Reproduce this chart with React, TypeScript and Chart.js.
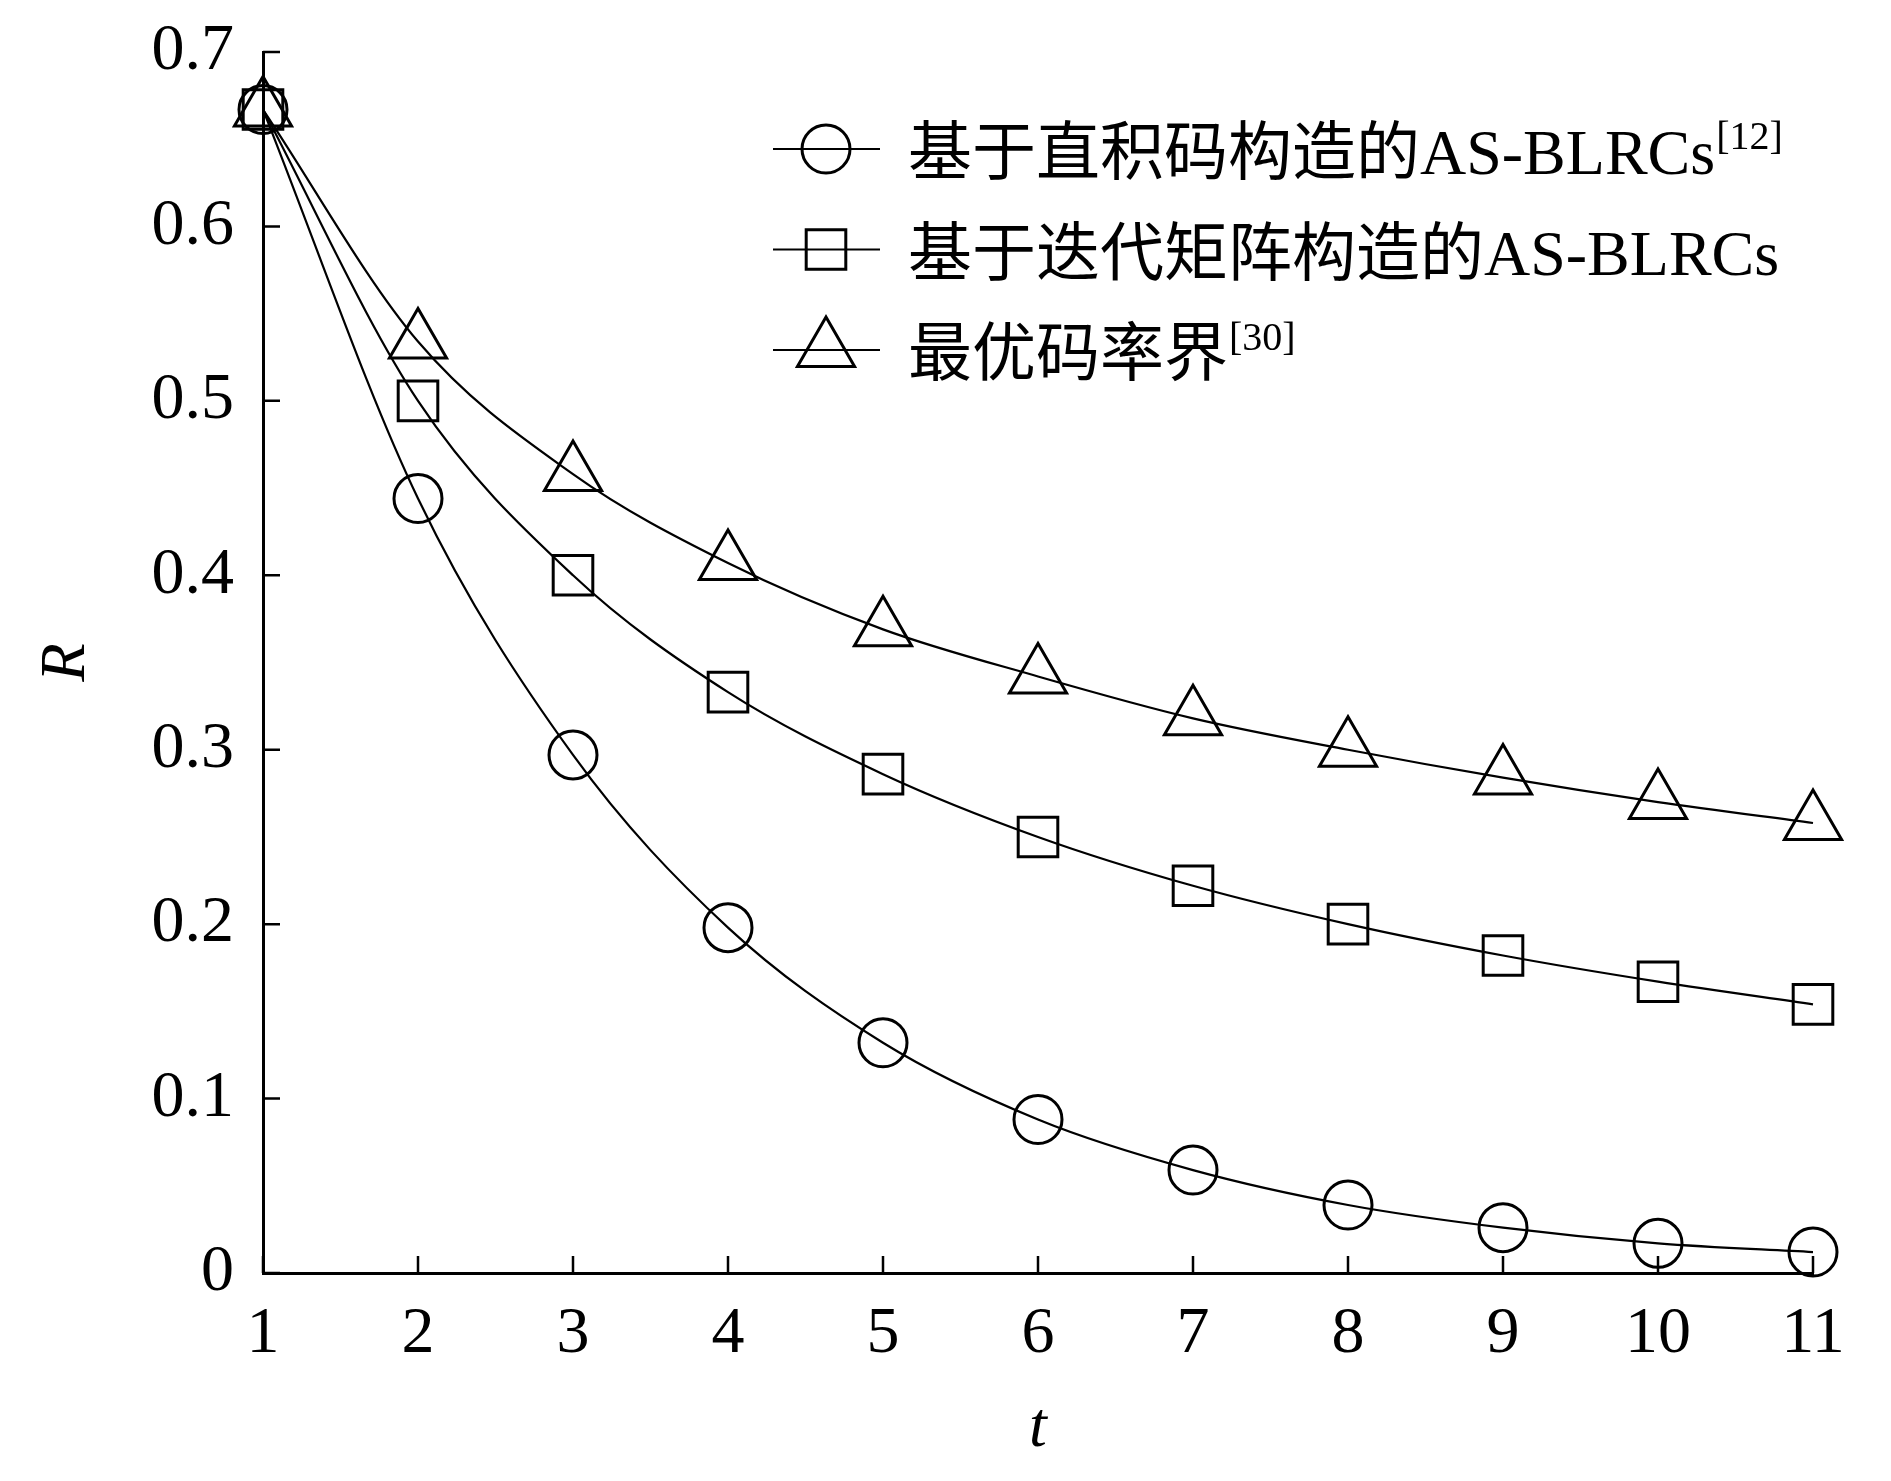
import React, { useEffect, useRef } from 'react';
import { Chart, registerables } from 'chart.js';

Chart.register(...registerables);

// ---- data ----
const tLabels = ['1', '2', '3', '4', '5', '6', '7', '8', '9', '10', '11'];
const directProduct = [0.667, 0.444, 0.297, 0.198, 0.132, 0.088, 0.059, 0.039, 0.026, 0.017, 0.012];
const iterativeMatrix = [0.667, 0.5, 0.4, 0.333, 0.286, 0.25, 0.222, 0.2, 0.182, 0.167, 0.154];
const optimalBound = [0.667, 0.534, 0.458, 0.407, 0.369, 0.342, 0.318, 0.3, 0.284, 0.27, 0.258];
const yTickLabels = ['0', '0.1', '0.2', '0.3', '0.4', '0.5', '0.6', '0.7'];
const seriesNames = ['基于直积码构造的AS-BLRCs', '基于迭代矩阵构造的AS-BLRCs', '最优码率界'];
const seriesRefs = ['[12]', '', '[30]'];
const xTitle = 't';
const yTitle = 'R';

// ---- layout ----
const W = 1891;
const H = 1481;
const AREA = { left: 263, right: 1813, top: 52, bottom: 1273 };
const LEGEND = { lineX0: 773, lineX1: 880, markerX: 826, textX: 908, firstY: 149, rowGap: 100.5 };
const SERIF = '"Liberation Serif", "Times New Roman", serif';
const MIXED = '"Liberation Serif", "Noto Sans CJK SC", serif';

function drawMarker(ctx: CanvasRenderingContext2D, style: string, x: number, y: number, r: number, lw: number) {
  ctx.save();
  ctx.lineWidth = lw;
  ctx.strokeStyle = '#000';
  ctx.beginPath();
  if (style === 'circle') {
    ctx.arc(x, y, r, 0, Math.PI * 2);
  } else if (style === 'rect') {
    const s = Math.SQRT1_2 * r;
    ctx.rect(x - s, y - s, 2 * s, 2 * s);
  } else {
    let rad = 0;
    ctx.moveTo(x + Math.sin(rad) * r, y - Math.cos(rad) * r);
    rad += (2 * Math.PI) / 3;
    ctx.lineTo(x + Math.sin(rad) * r, y - Math.cos(rad) * r);
    rad += (2 * Math.PI) / 3;
    ctx.lineTo(x + Math.sin(rad) * r, y - Math.cos(rad) * r);
    ctx.closePath();
  }
  ctx.stroke();
  ctx.restore();
}

const innerTicksPlugin = {
  id: 'innerTicks',
  afterDatasetsDraw(chart: any) {
    const { ctx, scales, chartArea } = chart;
    const len = 17;
    ctx.save();
    ctx.strokeStyle = '#000';
    ctx.lineWidth = 2.5;
    ctx.beginPath();
    const y = scales.y;
    y.ticks.forEach((tk: any) => {
      const py = y.getPixelForValue(tk.value);
      ctx.moveTo(chartArea.left, py);
      ctx.lineTo(chartArea.left + len, py);
    });
    const x = scales.x;
    x.ticks.forEach((_tk: any, i: number) => {
      const px = x.getPixelForTick(i);
      ctx.moveTo(px, chartArea.bottom);
      ctx.lineTo(px, chartArea.bottom - len);
    });
    ctx.stroke();
    ctx.restore();
  },
};

const paperLegendPlugin = {
  id: 'paperLegend',
  afterDraw(chart: any) {
    const ctx: CanvasRenderingContext2D = chart.ctx;
    ctx.save();
    chart.data.datasets.forEach((ds: any, i: number) => {
      const y = LEGEND.firstY + i * LEGEND.rowGap;
      ctx.strokeStyle = '#000';
      ctx.lineWidth = 2;
      ctx.beginPath();
      ctx.moveTo(LEGEND.lineX0, y);
      ctx.lineTo(LEGEND.lineX1, y);
      ctx.stroke();
      drawMarker(ctx, ds.pointStyle, LEGEND.markerX, y, ds.pointRadius, 3);
      ctx.fillStyle = '#000';
      ctx.textAlign = 'left';
      ctx.textBaseline = 'alphabetic';
      ctx.font = `64px ${MIXED}`;
      ctx.fillText(ds.label, LEGEND.textX, y + 25);
      const w = ctx.measureText(ds.label).width;
      const ref = seriesRefs[i];
      if (ref) {
        ctx.font = `40px ${SERIF}`;
        ctx.fillText(ref, LEGEND.textX + w + 1, y);
      }
    });
    ctx.restore();
  },
};

export default function App() {
  const ref = useRef<HTMLCanvasElement | null>(null);

  useEffect(() => {
    if (!ref.current) return;
    const common = {
      borderColor: '#000',
      borderWidth: 2.2,
      pointBorderColor: '#000',
      pointBackgroundColor: 'rgba(0,0,0,0)',
      pointBorderWidth: 3,
      cubicInterpolationMode: 'monotone' as const,
      clip: false as any,
      fill: false,
    };
    const chart = new Chart(ref.current, {
      type: 'line',
      data: {
        labels: tLabels,
        datasets: [
          { ...common, label: seriesNames[0], data: directProduct, pointStyle: 'circle', pointRadius: 24 },
          { ...common, label: seriesNames[1], data: iterativeMatrix, pointStyle: 'rect', pointRadius: 28 },
          { ...common, label: seriesNames[2], data: optimalBound, pointStyle: 'triangle', pointRadius: 33 },
        ],
      },
      options: {
        animation: false,
        responsive: false,
        devicePixelRatio: 1,
        layout: { padding: { left: 0, top: AREA.top, right: W - AREA.right, bottom: 0 } },
        plugins: {
          legend: { display: false },
          tooltip: { enabled: false },
        },
        scales: {
          x: {
            type: 'category',
            offset: false,
            grid: { display: false, drawTicks: false },
            border: { display: true, color: '#000', width: 3 },
            ticks: {
              color: '#000',
              font: { family: SERIF, size: 66 },
              padding: 22,
              maxRotation: 0,
              autoSkip: false,
            },
            title: {
              display: true,
              text: xTitle,
              color: '#000',
              font: { family: SERIF, size: 64, style: 'italic' },
              padding: { top: 0, bottom: 13 },
            },
            afterFit: (scale: any) => {
              scale.height = H - AREA.bottom;
              scale.paddingLeft = 0;
              scale.paddingRight = 0;
            },
          },
          y: {
            type: 'linear',
            min: 0,
            max: 0.7,
            grid: { display: false, drawTicks: false },
            border: { display: true, color: '#000', width: 3 },
            ticks: {
              stepSize: 0.1,
              color: '#000',
              font: { family: SERIF, size: 66 },
              padding: 29,
              callback: (_v: any, i: number) => yTickLabels[i],
            },
            title: {
              display: true,
              text: yTitle,
              color: '#000',
              font: { family: SERIF, size: 63, style: 'italic' },
              padding: { top: 30, bottom: 0 },
            },
            afterFit: (scale: any) => {
              scale.width = AREA.left;
              scale.paddingTop = 0;
              scale.paddingBottom = 0;
            },
          },
        },
      },
      plugins: [innerTicksPlugin, paperLegendPlugin],
    } as any);
    return () => chart.destroy();
  }, []);

  return (
    <div style={{ position: 'absolute', left: 0, top: 0, width: W, height: H, background: '#fff' }}>
      <canvas ref={ref} width={W} height={H} style={{ display: 'block', width: W, height: H }} />
    </div>
  );
}
